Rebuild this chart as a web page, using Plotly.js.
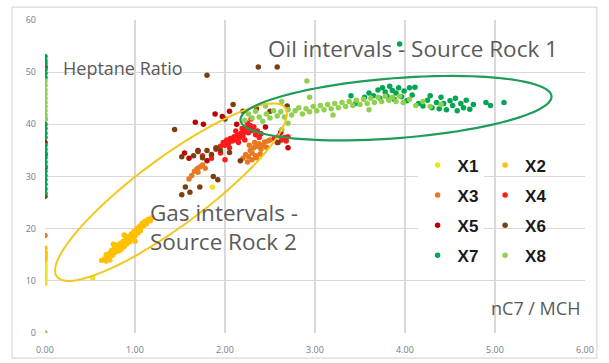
<!DOCTYPE html>
<html><head><meta charset="utf-8">
<script src="https://cdn.plot.ly/plotly-3.0.1.min.js"></script>
<style>html,body{margin:0;padding:0;background:#fff}#chart{width:609px;height:363px}</style>
</head><body><div id="chart"></div>
<script>
// ---- data ----
const seriesNames = ["X1","X2","X3","X4","X5","X6","X7","X8"];
const seriesColors = ["#f2e21a","#ffc000","#e8791e","#ff1a1a","#c00000","#7b3f10","#00a651","#92d050"];

const x1X = [0,0,0,0,0,0,0,0,0,0,0.53,0.95,1.00,1.86];
const x1Y = [9.5,10.2,10.8,11.5,12.0,12.6,13.2,13.8,14.5,15.0,10.6,18.5,19.2,28.0];

const x2X = [0,0,0,0,0.63,0.66,0.68,0.70,0.72,0.74,0.75,0.77,0.78,0.80,0.80,0.82,0.83,0.84,0.85,0.86,0.87,0.88,0.89,0.90,0.91,0.92,0.93,0.94,0.95,0.96,0.97,0.98,0.99,1.00,1.01,1.02,1.03,1.04,1.05,1.06,1.07,1.08,1.10,1.11,1.13,1.15,1.17,1.19,0.76,0.88,1.00,0.72,0.68];
const x2Y = [16.3,15.5,14.8,14.2,13.9,14.2,15.0,14.6,15.3,15.8,14.9,16.2,15.5,16.0,16.8,15.7,16.5,17.2,16.1,16.9,17.6,16.6,17.3,18.0,17.1,17.8,18.5,17.5,18.3,19.0,18.1,18.8,19.5,18.6,19.3,20.0,19.1,19.8,20.4,19.6,20.3,21.0,20.6,21.4,21.0,21.8,21.5,22.1,17.0,18.8,17.6,14.0,13.8];

const x3X = [0,1.60,1.63,1.66,1.69,1.70,1.72,1.75,1.78,2.20,2.23,2.26,2.28,2.30,2.32,2.34,2.36,2.38,2.40,2.42,2.44,2.46,2.48,2.30,2.25,2.35,2.50,2.27,2.33,2.39];
const x3Y = [18.7,29.5,30.2,31.0,31.5,30.8,31.8,32.2,31.6,33.5,34.2,33.8,35.0,34.5,35.5,34.0,35.8,36.3,35.2,36.0,36.6,35.6,36.8,33.2,32.8,33.6,37.0,36.0,36.5,34.3];

const x4X = [1.95,1.98,2.00,2.02,2.04,2.06,2.08,2.10,2.12,2.14,2.16,2.18,2.20,2.22,2.24,2.25,2.26,2.28,2.29,2.30,2.32,2.34,2.36,2.38,2.40,2.05,2.15,2.22,2.12,2.19,2.55,2.58,2.60,2.63,2.66,2.68,2.70,1.75,1.85,1.95,2.00,1.90];
const x4Y = [35.8,36.5,36.0,37.0,36.4,37.3,36.8,37.6,37.0,38.0,37.4,38.3,37.8,38.6,39.3,40.2,38.4,39.8,41.0,38.8,39.5,38.0,38.7,37.5,38.2,35.5,36.5,37.0,38.7,39.2,37.3,36.5,37.8,37.0,37.5,36.8,37.6,34.0,33.5,34.5,33.2,35.2];

const x5X = [0,0,0,0,1.67,1.76,1.89,2.13,1.97,2.05,1.60,1.80,1.70,2.62,2.45,1.55,2.70];
const x5Y = [51.0,36.5,34.2,31.7,40.4,40.0,42.0,40.0,41.5,42.5,33.5,33.0,35.0,38.5,39.5,34.5,35.5];

const x6X = [0,1.80,2.37,2.58,1.44,1.52,1.65,1.70,1.75,1.80,1.85,1.90,2.17,1.87,1.92,1.56,1.52,1.61,1.72,2.09,2.20,2.35,2.50,2.69,2.59,2.00,1.95,2.05];
const x6Y = [26.2,49.4,51.0,51.0,39.0,33.8,34.0,34.8,33.6,35.0,34.2,35.5,33.0,30.0,29.4,28.0,26.5,27.0,28.0,43.8,42.5,43.0,42.5,43.5,36.5,41.0,35.0,34.6];

const x7X = [0,0,0,0,0,0,0,0,0,0,0,0,0,0,0,0,0,0,0,0,0,0,0,3.94,3.55,3.60,3.65,3.70,3.72,3.75,3.78,3.80,3.83,3.86,3.88,3.90,3.93,3.96,3.99,4.02,4.05,4.11,4.15,4.20,4.25,4.30,4.35,4.38,4.40,4.43,4.46,4.50,4.53,4.56,4.58,4.62,4.65,4.68,4.72,4.76,4.90,4.95,5.10,3.45,3.40,4.08,4.28];
const x7Y = [53.0,52.2,51.6,50.5,49.8,49.0,41.0,40.0,39.2,38.3,37.5,36.0,35.2,34.5,33.6,32.8,32.0,31.0,30.2,29.4,28.5,27.6,26.8,55.4,45.2,46.0,45.5,46.6,45.0,47.0,46.2,45.4,47.3,46.5,44.8,46.0,47.0,45.3,46.4,44.5,47.0,47.1,44.0,43.5,44.6,43.2,44.2,43.0,45.2,44.0,42.8,44.5,43.6,45.0,42.6,44.0,43.2,44.6,42.9,43.8,44.2,43.6,44.2,44.0,45.5,45.6,45.5];

const x8X = [0,0,0,0,0,0,0,0,0,0,0,2.22,2.26,2.30,2.34,2.38,2.42,2.46,2.50,2.54,2.58,2.62,2.66,2.70,2.74,2.78,2.82,2.86,2.90,2.94,2.98,3.02,3.06,3.10,3.14,3.18,3.22,3.26,3.30,3.34,3.38,3.42,3.46,3.50,3.54,3.58,3.62,3.66,3.70,3.74,3.78,3.82,3.86,3.90,3.94,3.98,4.05,4.12,4.20,4.28,2.91,2.94,2.63,2.63,3.20,3.60,4.40,2.45,2.70];
const x8Y = [48.3,47.5,46.6,45.8,45.0,44.2,43.4,42.6,41.8,41.0,0,40.8,42.0,41.2,42.5,41.4,40.6,42.0,41.2,42.6,41.6,42.4,41.4,42.8,41.8,42.6,43.2,42.0,43.0,42.4,43.4,42.6,43.6,42.8,43.8,43.0,44.0,43.2,44.2,43.4,44.4,43.6,44.6,43.8,44.8,44.0,45.0,44.2,45.2,44.4,45.4,44.6,45.2,44.4,45.4,44.2,44.8,43.6,44.4,43.4,48.3,45.2,44.4,39.0,41.8,42.8,43.8,43.5,40.2];

const xTickVals = [0,1,2,3,4,5,6];
const xTickText = ["0.00","1.00","2.00","3.00","4.00","5.00","6.00"];
const yTickVals = [0,10,20,30,40,50,60];

// ---- traces ----
const xs = [x1X,x2X,x3X,x4X,x5X,x6X,x7X,x8X];
const ys = [x1Y,x2Y,x3Y,x4Y,x5Y,x6Y,x7Y,x8Y];
const traces = seriesNames.map((n,i)=>({
  type:'scatter', mode:'markers', name:n, x:xs[i], y:ys[i],
  marker:{color:seriesColors[i], size:5.5},
  legend: (i%2===0) ? 'legend' : 'legend2',
  legendgroup:n
}));

// ---- ellipse outlines (center in data units, semi-axes in screen px, angle deg) ----
const W=609,H=363,M={l:45,r:24,t:20,b:30};
const pxX=(W-M.l-M.r)/6, pxY=(H-M.t-M.b)/60;
function ellipse(cx,cy,a,b,deg){
  const t=deg*Math.PI/180; let p='';
  for(let k=0;k<=96;k++){
    const f=2*Math.PI*k/96;
    const dx=a*Math.cos(f)*Math.cos(t)-b*Math.sin(f)*Math.sin(t);
    const dy=a*Math.cos(f)*Math.sin(t)+b*Math.sin(f)*Math.cos(t);
    p+=(k?'L':'M')+(cx+dx/pxX).toFixed(4)+','+(cy+dy/pxY).toFixed(4);
  }
  return p+'Z';
}
const shapes=[
  {type:'path',xref:'x',yref:'y',path:ellipse(1.40,27.0,142,34,36.5),line:{color:'#f2c81e',width:2}},
  {type:'path',xref:'x',yref:'y',path:ellipse(3.9,43.1,156,30,4.4),line:{color:'#1f9d57',width:2.2}},
  {type:'rect',xref:'paper',yref:'paper',x0:-0.061,x1:1.022,y0:-0.08,y1:1.041,line:{color:'#d9d9d9',width:1.2},layer:'below'}
];

const annFont={family:'Open Sans, Noto Sans, sans-serif',color:'#5a5a5a'};
const annotations=[
  {x:0.03,y:0.847,xref:'paper',yref:'paper',xanchor:'left',yanchor:'middle',showarrow:false,text:'Heptane Ratio',font:Object.assign({size:18},annFont)},
  {x:0.41,y:0.91,xref:'paper',yref:'paper',xanchor:'left',yanchor:'middle',showarrow:false,text:'Oil intervals - Source Rock 1',font:Object.assign({size:22.5},annFont)},
  {x:0.19,y:0.338,xref:'paper',yref:'paper',xanchor:'left',yanchor:'middle',showarrow:false,align:'left',text:'Gas intervals -<br>Source Rock 2',font:Object.assign({size:22.5},annFont)},
  {x:0.995,y:0.08,xref:'paper',yref:'paper',xanchor:'right',yanchor:'middle',showarrow:false,text:'nC7 / MCH',font:Object.assign({size:18},annFont)}
];

const legFont={family:'Liberation Sans, Arial, sans-serif',size:17,color:'#1a1a1a',weight:'bold'};
const layout={
  width:W,height:H,margin:M,paper_bgcolor:'#fff',plot_bgcolor:'#fff',
  xaxis:{range:[0,6],tickvals:xTickVals,ticktext:xTickText,showgrid:true,gridcolor:'#d9d9d9',gridwidth:1.3,
    zeroline:false,showline:false,ticks:'',ticklabelstandoff:10,tickfont:{family:'Open Sans, sans-serif',size:9,color:'#7a7a7a'},fixedrange:true},
  yaxis:{range:[0,60],tickvals:yTickVals,showgrid:true,gridcolor:'#d9d9d9',gridwidth:1.3,
    zeroline:false,showline:false,ticks:'',ticklabelstandoff:8,tickfont:{family:'Open Sans, sans-serif',size:9,color:'#7a7a7a'},fixedrange:true},
  showlegend:true,
  legend:{x:0.69,y:0.593,xanchor:'left',yanchor:'top',bgcolor:'rgba(255,255,255,1)',font:legFont,tracegroupgap:5,itemsizing:'trace'},
  legend2:{x:0.815,y:0.593,xanchor:'left',yanchor:'top',bgcolor:'rgba(255,255,255,0)',font:legFont,tracegroupgap:5,itemsizing:'trace'},
  shapes:shapes,annotations:annotations
};
Plotly.newPlot('chart',traces,layout,{staticPlot:true,displayModeBar:false});
</script></body></html>
